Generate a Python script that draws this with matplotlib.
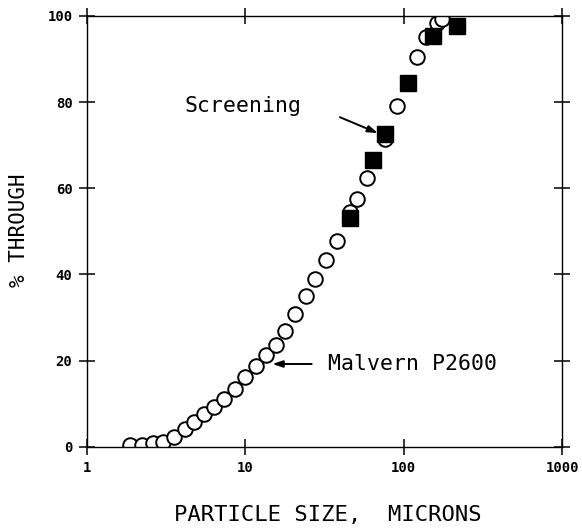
import matplotlib
matplotlib.use("Agg")
import matplotlib.pyplot as plt

# Malvern P2600 (open circles)
malvern_size = [1.86, 2.21, 2.61, 3.02, 3.54, 4.14, 4.74, 5.46, 6.34, 7.34,
                8.57, 9.91, 11.6, 13.4, 15.5, 17.9, 20.7, 24.0, 27.7, 32.5,
                37.6, 45.6, 50.3, 58.2, 76.0, 90.1, 122, 139, 162, 175]
malvern_pct = [0.3, 0.5, 0.8, 1.2, 2.2, 4.0, 5.8, 7.5, 9.2, 11.0,
               13.3, 16.2, 18.8, 21.3, 23.6, 26.8, 30.7, 34.9, 39.0, 43.3,
               47.8, 54.4, 57.5, 62.3, 71.4, 79.0, 90.5, 95.2, 98.3, 99.3]

# Screening (filled squares)
screen_size = [45.6, 64.1, 76.0, 107, 152, 216]
screen_pct = [53.0, 66.6, 72.6, 84.5, 95.4, 97.7]

xticks = [1, 10, 100, 1000]
yticks = [0, 20, 40, 60, 80, 100]

mono = "DejaVu Sans Mono"

fig = plt.figure(figsize=(5.82, 5.29), dpi=100)
ax = fig.add_axes([0.1495, 0.1556, 0.8165, 0.8142])

ax.plot(malvern_size, malvern_pct, linestyle="none", marker="o",
        markersize=10.5, markerfacecolor="white", markeredgecolor="black",
        markeredgewidth=1.4)
ax.plot(screen_size, screen_pct, linestyle="none", marker="s",
        markersize=11, color="black")

ax.set_xscale("log")
ax.set_xlim(1, 1000)
ax.set_ylim(0, 100)
ax.set_xticks(xticks)
ax.set_xticklabels([str(v) for v in xticks])
ax.set_yticks(yticks)
ax.set_yticklabels([str(v) for v in yticks])
ax.minorticks_off()
ax.tick_params(direction="inout", length=11, width=1.1, top=True, right=True,
               labeltop=False, labelright=False, pad=5)
for lab in ax.get_xticklabels() + ax.get_yticklabels():
    lab.set_fontfamily(mono)
    lab.set_fontweight("bold")
    lab.set_fontsize(10)
for s in ax.spines.values():
    s.set_linewidth(1.0)

# axis titles placed by hand, like the original plotter output
fig.text(327.5 / 582, 1 - 515.5 / 529, "PARTICLE SIZE,  MICRONS",
         fontfamily=mono, fontsize=16, ha="center", va="center")
fig.text(19 / 582, 1 - 230 / 529, "% THROUGH", fontfamily=mono,
         fontsize=15, ha="center", va="center", rotation=90)

ax.text(4.14, 79.1, "Screening", fontfamily=mono, fontsize=15.5,
        ha="left", va="center")
ax.annotate("", xy=(68.6, 72.8), xytext=(39.5, 76.5),
            arrowprops=dict(arrowstyle="-|>,head_length=0.6,head_width=0.2",
                            color="black", lw=1.4, shrinkA=0, shrinkB=0))

ax.text(33.2, 19.2, "Malvern P2600", fontfamily=mono, fontsize=15.5,
        ha="left", va="center")
ax.annotate("", xy=(14.8, 19.2), xytext=(26.2, 19.2),
            arrowprops=dict(arrowstyle="-|>,head_length=0.6,head_width=0.2",
                            color="black", lw=1.4, shrinkA=0, shrinkB=0))

fig.savefig("out.png", dpi=100)
